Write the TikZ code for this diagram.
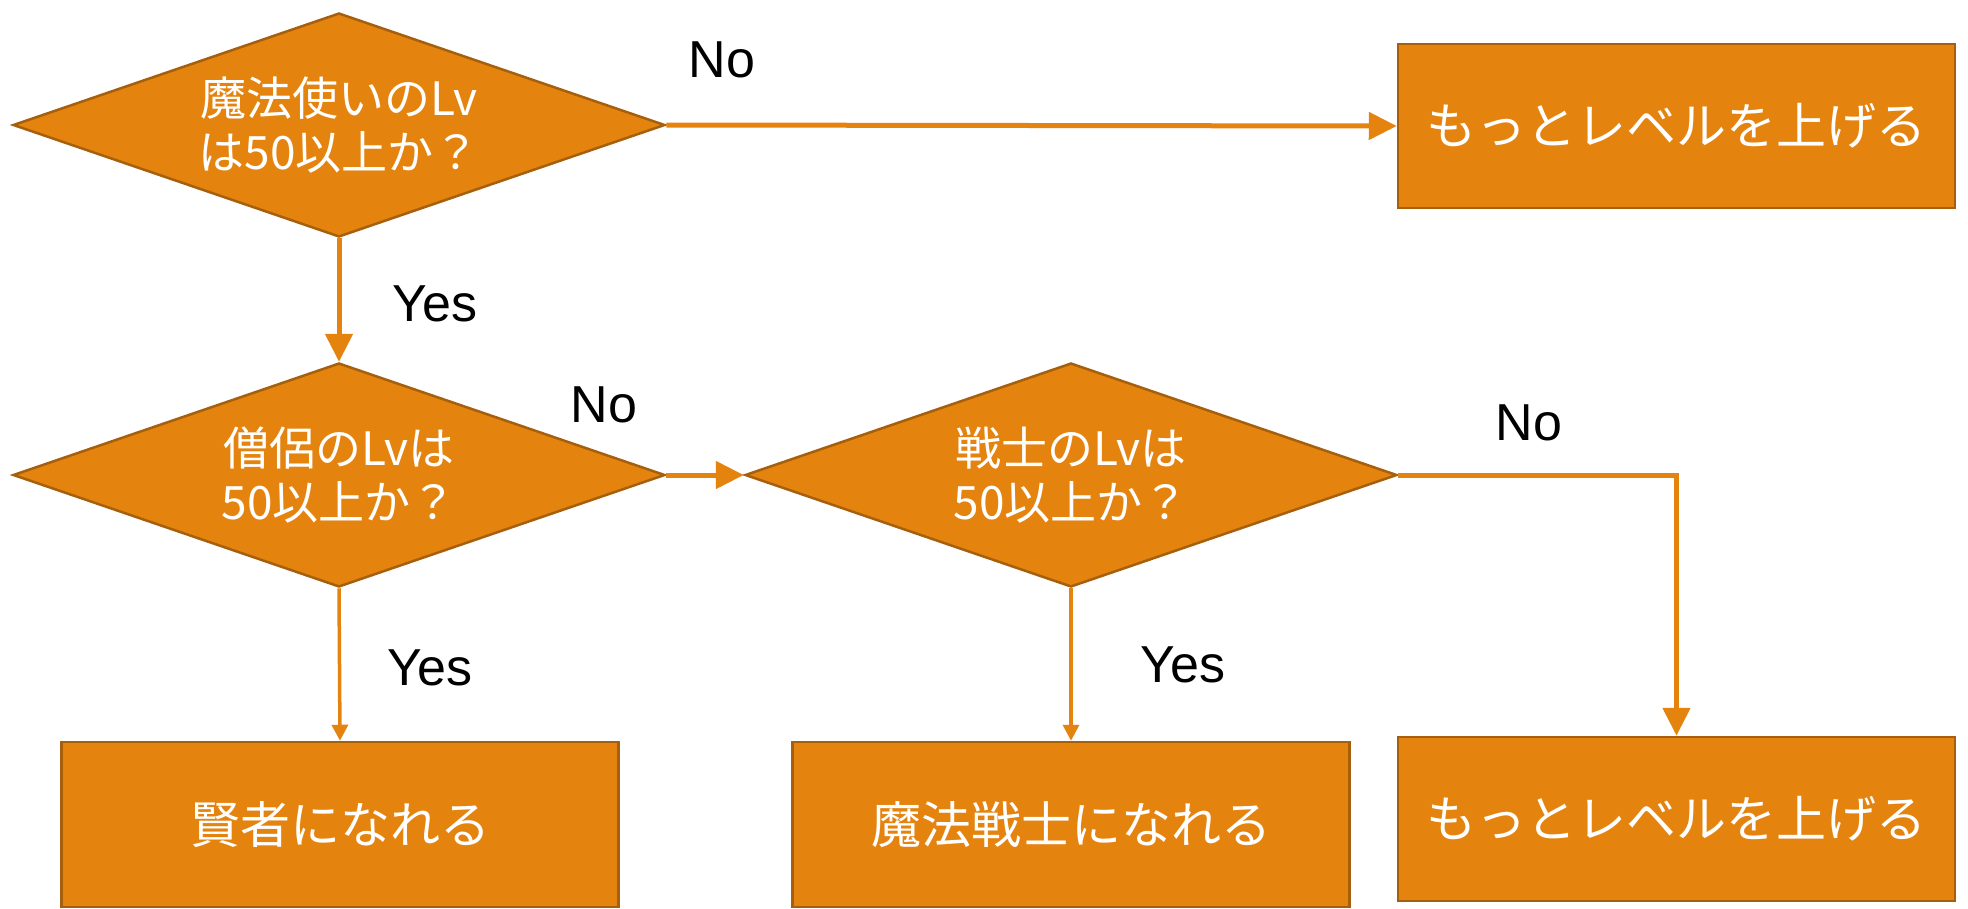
\documentclass[tikz,border=0pt]{standalone}
\usepackage{fontspec}
\setmainfont{Liberation Sans}
\newfontfamily\jp{Noto Sans CJK JP}
\usetikzlibrary{shapes.geometric,arrows.meta}
\definecolor{orfill}{HTML}{E5830F}
\definecolor{orline}{HTML}{E5830F}
\definecolor{orborder}{HTML}{A65F0D}
\begin{document}
\begin{tikzpicture}[x=1pt,y=-1pt,
 dec/.style={diamond, draw=orborder, line width=2.5pt, fill=orfill, aspect=2.9, inner sep=0pt,
   minimum width=652pt, minimum height=224pt, text=white, align=center,
   font=\jp\fontsize{46}{54}\selectfont},
 proc/.style={rectangle, draw=orborder, line width=2.5pt, fill=orfill, minimum width=557pt,
   minimum height=164pt, inner sep=0pt, text=white, font=\jp\fontsize{50}{56}\selectfont},
 bigarr/.style={draw=orline, line width=5pt, -{Triangle[length=28pt,width=27pt]}},
 smallarr/.style={draw=orline, line width=3.5pt, -{Triangle[length=16pt,width=16pt]}},
 lab/.style={font=\fontsize{52}{60}\selectfont, inner sep=0pt}]
\useasboundingbox (0,0) rectangle (1968,908);

\node[dec] (d1) at (339,125) {魔法使いのLv\\は50以上か？};
\node[dec] (d2) at (339,475) {僧侶のLvは\\50以上か？};
\node[dec] (d3) at (1071,475) {戦士のLvは\\50以上か？};

\node[proc] (b1) at (1676.5,126) {もっとレベルを上げる};
\node[proc] (b3) at (1676.5,819) {もっとレベルを上げる};
\node[proc, minimum height=165pt] (b4) at (340,824.5) {賢者になれる};
\node[proc, minimum height=165pt] (b5) at (1071,824.5) {魔法戦士になれる};

\draw[bigarr] (d1.east) -- (b1.west);
\draw[bigarr] (d1.south) -- (d2.north);
\draw[bigarr] (d2.east) -- (d3.west);
\draw[smallarr] (d2.south) -- (b4.north);
\draw[smallarr] (d3.south) -- (b5.north);
\draw[bigarr] (d3.east) -| (b3.north);

\node[lab] (l1) at (722,60) {No};
\node[lab] (l2) at (435,304) {Yes};
\node[lab] (l3) at (604,405) {No};
\node[lab] (l4) at (1529,423) {No};
\node[lab] (l5) at (430,668) {Yes};
\node[lab] (l6) at (1183,665) {Yes};
\end{tikzpicture}
\end{document}
